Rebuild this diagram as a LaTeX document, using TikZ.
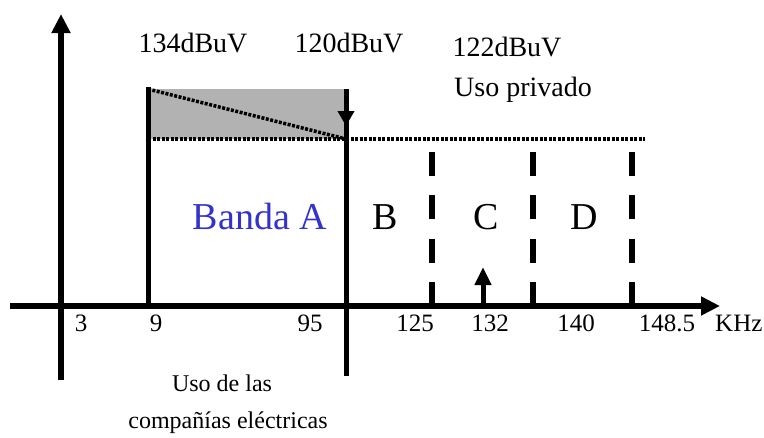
\documentclass[tikz,border=0pt]{standalone}
\usepackage{fontspec}
\setmainfont{Liberation Serif}
\usetikzlibrary{arrows.meta}
\definecolor{bandblue}{RGB}{51,51,204}
\definecolor{shadegray}{RGB}{178,178,178}
\begin{document}
\begin{tikzpicture}[x=1pt,y=-1pt,
  axis/.style={line width=6pt, -{Triangle[length=19pt,width=18pt]}},
  solidline/.style={line width=5pt},
  dashline/.style={line width=6pt, dash pattern=on 24pt off 19.3pt},
  dotline/.style={line width=3.5pt, dash pattern=on 3pt off 1.5pt},
  toplabel/.style={font=\fontsize{28}{34}\selectfont, anchor=base, inner sep=0pt},
  ticklabel/.style={font=\fontsize{25}{30}\selectfont, anchor=base, inner sep=0pt},
  bandlabel/.style={font=\fontsize{38}{44}\selectfont, anchor=base, inner sep=0pt},
  botlabel/.style={font=\fontsize{24}{29}\selectfont, anchor=base, inner sep=0pt},
]
\useasboundingbox (0,0) rectangle (764,437);
% coordinates
\coordinate (yb) at (61,380);
\coordinate (yt) at (61,14);
\coordinate (xl) at (10,306);
\coordinate (xr) at (720,306);
\coordinate (ga) at (148,89);
\coordinate (gb) at (346,139);
\coordinate (gc) at (148,139);
\coordinate (de) at (645,139);
\coordinate (la) at (148,87);
\coordinate (lb) at (148,306);
\coordinate (ra) at (346,89);
\coordinate (rb) at (346,376);
\coordinate (rt) at (346,126);
\coordinate (d1a) at (432,306); \coordinate (d1b) at (432,152);
\coordinate (d2a) at (533,306); \coordinate (d2b) at (533,152);
\coordinate (d3a) at (632,306); \coordinate (d3b) at (632,152);
\coordinate (sa) at (483,306); \coordinate (sb) at (483,267);
% shaded region
\fill[fill=shadegray] (ga) rectangle (gb);
\draw[dotline] (ga) -- (gb);
\draw[dotline] (gc) -- (de);
% solid verticals
\draw[solidline] (la) -- (lb);
\draw[solidline] (ra) -- (rb);
\draw[line width=5pt, -{Triangle[length=15pt,width=16pt]}] (ra) -- (rt);
% dashed band limits
\draw[dashline] (d1a) -- (d1b);
\draw[dashline] (d2a) -- (d2b);
\draw[dashline] (d3a) -- (d3b);
% small arrow
\draw[line width=5pt, -{Triangle[length=18pt,width=16pt]}] (sa) -- (sb);
% axes
\draw[axis] (yb) -- (yt);
\draw[axis] (xl) -- (xr);
% labels
\node[toplabel] (t134) at (193,52) {134dBuV};
\node[toplabel] (t120) at (349,52) {120dBuV};
\node[toplabel] (t122) at (507,56) {122dBuV};
\node[toplabel] (tup) at (523,96) {Uso privado};
\node[bandlabel, text=bandblue] (bA) at (260,229) {Banda A};
\node[bandlabel] (bB) at (385,229) {B};
\node[bandlabel] (bC) at (486,229) {C};
\node[bandlabel] (bD) at (584,229) {D};
\node[ticklabel] (k3) at (81,331) {3};
\node[ticklabel] (k9) at (156,331) {9};
\node[ticklabel] (k95) at (310,331) {95};
\node[ticklabel] (k125) at (415,331) {125};
\node[ticklabel] (k132) at (490,331) {132};
\node[ticklabel] (k140) at (576,331) {140};
\node[ticklabel] (k148) at (667,331) {148.5};
\node[ticklabel, anchor=base west] (kHz) at (715,331) {KHz};
\node[botlabel] (u1) at (222,391) {Uso de las};
\node[botlabel] (u2) at (228,428) {compañías eléctricas};
\end{tikzpicture}
\end{document}
